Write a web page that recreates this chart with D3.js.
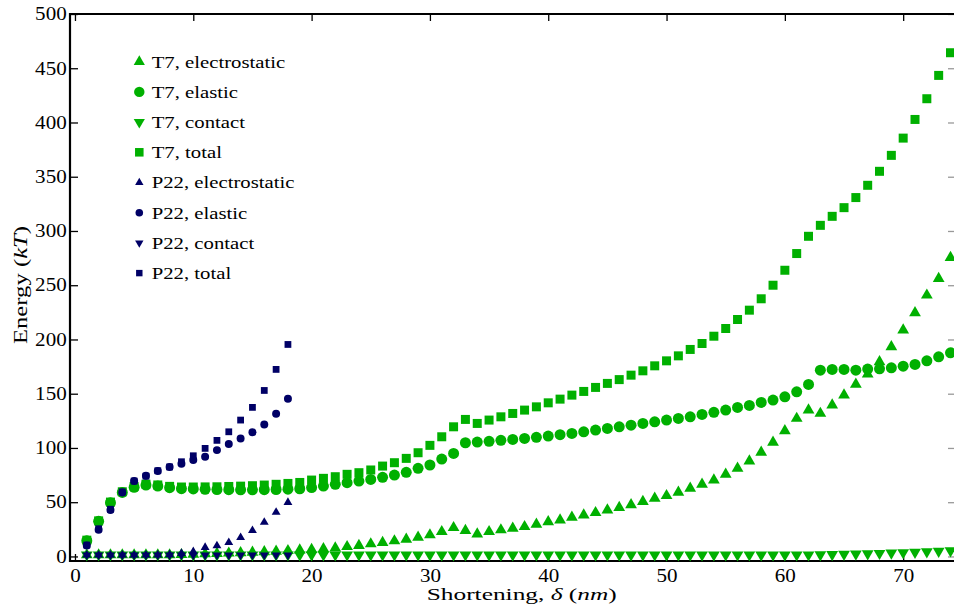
<!DOCTYPE html>
<html>
<head>
<meta charset="utf-8">
<script src="https://cdn.jsdelivr.net/npm/d3@7"></script>
<style>
  body { margin: 0; background: #fff; }
  svg { display: block; }
</style>
</head>
<body>
<svg id="chart" width="954" height="610"></svg>
<script>
// Shortening steps (nm)
const t7Shortening = d3.range(1, 75);
const p22Shortening = d3.range(1, 19);

// T7 energies (kT)
const t7Electrostatic = [1.4,1.4,1.4,1.4,1.4,1.4,1.4,1.4,1.6,2.0,
  2.3,2.6,3.0,3.4,3.8,4.3,4.8,5.3,5.8,6.4,
  7.0,7.8,9.0,10.0,11.5,12.7,14.3,15.8,17.7,19.8,
  22.8,26.5,23.8,20.7,22.8,24.4,26.0,27.4,29.6,32.0,
  33.6,36.1,38.2,40.3,42.8,45.0,47.6,50.5,53.6,56.0,
  59.1,62.8,66.5,70.4,75.7,81.2,87.9,95.9,105.2,115.8,
  127.2,134.9,131.8,139.5,148.7,158.6,168.0,179.4,193.2,208.6,
  224.5,240.8,256.2,275.5];
const t7Elastic = [14.5,32.4,49.6,59.0,63.7,65.8,64.9,63.4,62.5,62.2,
  61.9,61.6,61.5,61.4,61.4,61.5,61.7,62.0,62.4,63.5,
  64.9,66.5,68.0,69.5,71.0,72.9,75.0,77.5,81.2,84.3,
  89.8,95.0,104.8,105.4,106.1,107.0,107.9,108.8,109.8,111.0,
  112.2,113.4,114.9,116.5,118.0,119.5,121.0,122.6,124.1,125.7,
  127.2,128.7,130.9,132.8,134.9,137.4,139.2,142.0,144.1,147.1,
  151.7,158.6,171.7,172.4,172.4,171.7,172.7,172.9,173.9,175.4,
  177.0,180.3,184.0,187.7];
const t7Contact = [1.5,1.5,1.5,1.5,1.5,1.5,1.5,1.5,1.5,1.5,
  1.5,1.5,1.5,1.5,1.5,1.5,1.5,1.5,1.5,1.5,
  1.5,1.5,1.5,1.5,1.5,1.5,1.5,1.5,1.5,1.5,
  1.5,1.5,1.5,1.5,1.5,1.5,1.5,1.5,1.5,1.5,
  1.5,1.5,1.5,1.5,1.5,1.5,1.5,1.5,1.5,1.5,
  1.5,1.5,1.5,1.5,1.5,1.5,1.5,1.5,1.5,1.5,
  1.5,1.5,1.7,1.9,2.1,2.3,2.6,2.9,3.2,3.6,
  4.0,4.4,4.8,5.3];
const t7Total = [15.0,32.8,50.1,59.6,64.4,66.6,65.9,64.6,64.0,64.0,
  64.1,64.2,64.5,64.8,65.2,65.8,66.5,67.3,68.2,70.4,
  72.0,73.5,75.7,77.2,79.7,83.3,86.4,90.4,95.6,102.4,
  110.3,119.5,126.3,122.6,125.7,128.7,131.8,134.9,137.9,141.6,
  145.0,148.7,152.1,155.8,159.5,163.0,167.1,171.1,175.7,180.3,
  184.9,190.8,196.3,203.0,210.1,218.4,227.0,237.5,250.0,263.8,
  279.2,295.1,305.2,313.5,321.5,330.8,342.1,355.0,369.7,385.6,
  402.8,421.9,443.4,464.3];

// P22 energies (kT)
const p22Electrostatic = [1.3,1.3,1.3,1.3,1.3,1.3,1.4,1.6,2.8,4.4,
  8.4,9.8,12.8,17.4,23.9,31.5,40.7,49.8];
const p22Elastic = [10.0,24.7,42.8,59.0,69.5,74.4,78.7,82.4,85.5,88.9,
  91.9,98.0,103.6,108.8,114.4,121.7,131.5,145.3];
const p22Contact = [1.3,1.3,1.3,1.3,1.3,1.3,1.3,1.3,1.3,1.3,
  1.3,1.3,1.3,1.3,1.3,1.3,1.3,1.3];
const p22Total = [10.5,25.5,43.5,59.5,69.5,74.0,79.0,82.5,87.3,92.8,
  99.6,107.0,114.9,125.7,137.4,153.0,172.4,195.4];

// Axis ticks
const xTicks = [0, 10, 20, 30, 40, 50, 60, 70];
const yTicks = [0, 50, 100, 150, 200, 250, 300, 350, 400, 450, 500];

const GREEN = "#00b000";
const NAVY = "#000066";
const FONT = "'Liberation Serif', 'Times New Roman', serif";

const series = [
  { name: "T7, electrostatic", xs: t7Shortening, ys: t7Electrostatic, color: GREEN, shape: "up",     size: 60 },
  { name: "T7, elastic",       xs: t7Shortening, ys: t7Elastic,       color: GREEN, shape: "circle", size: 95 },
  { name: "T7, contact",       xs: t7Shortening, ys: t7Contact,       color: GREEN, shape: "down",   size: 60 },
  { name: "T7, total",         xs: t7Shortening, ys: t7Total,         color: GREEN, shape: "square", size: 81 },
  { name: "P22, electrostatic",xs: p22Shortening, ys: p22Electrostatic, color: NAVY, shape: "up",     size: 34 },
  { name: "P22, elastic",      xs: p22Shortening, ys: p22Elastic,       color: NAVY, shape: "circle", size: 50 },
  { name: "P22, contact",      xs: p22Shortening, ys: p22Contact,       color: NAVY, shape: "down",   size: 34 },
  { name: "P22, total",        xs: p22Shortening, ys: p22Total,         color: NAVY, shape: "square", size: 46 }
];

const symbolType = { up: d3.symbolTriangle, down: d3.symbolTriangle, circle: d3.symbolCircle, square: d3.symbolSquare };

const svg = d3.select("#chart");
const plotLeft = 70, plotRight = 955, plotTop = 14, plotBottom = 561;

const x = d3.scaleLinear().domain([-0.42, 74.38]).range([plotLeft, plotRight]);
const y = d3.scaleLinear().domain([-4.2, 500]).range([plotBottom, plotTop]);

// widen glyphs along the text direction
function stretchText(sel, sx) {
  sel.each(function () {
    const t = d3.select(this);
    const tx = +t.attr("x") || 0, ty = +t.attr("y") || 0;
    t.attr("x", 0).attr("y", 0).attr("transform", `translate(${tx},${ty}) scale(${sx},1)`);
  });
}

// axes with inward ticks
const gLeft = svg.append("g").attr("transform", `translate(${plotLeft},0)`)
  .call(d3.axisLeft(y).tickValues(yTicks).tickSizeInner(-8).tickSizeOuter(0).tickPadding(3.3));
const gBottom = svg.append("g").attr("transform", `translate(0,${plotBottom})`)
  .call(d3.axisBottom(x).tickValues(xTicks).tickSizeInner(-7).tickSizeOuter(0).tickPadding(8.2));
const gTop = svg.append("g").attr("transform", `translate(0,${plotTop})`)
  .call(d3.axisTop(x).tickValues(xTicks).tickSizeInner(-7).tickSizeOuter(0).tickFormat(""));
const gRight = svg.append("g").attr("transform", `translate(${plotRight},0)`)
  .call(d3.axisRight(y).tickValues(yTicks).tickSizeInner(-7).tickSizeOuter(0).tickFormat(""));

[gLeft, gBottom, gTop, gRight].forEach(g => {
  g.select(".domain").remove();
  g.selectAll(".tick line").attr("stroke", "#000").attr("stroke-width", 1.3);
});
gRight.selectAll(".tick line").attr("stroke", "#999");
[gLeft, gBottom].forEach(g => {
  g.selectAll(".tick text").attr("font-family", FONT).attr("font-size", 18).attr("fill", "#000");
  stretchText(g.selectAll(".tick text"), 1.17);
});

// frame
const frame = svg.append("g").attr("stroke", "#000").attr("stroke-width", 2.2).attr("fill", "none");
frame.append("line").attr("x1", plotLeft).attr("x2", plotLeft).attr("y1", plotTop - 1).attr("y2", plotBottom + 1);
frame.append("line").attr("x1", plotLeft - 1).attr("x2", 954).attr("y1", plotTop).attr("y2", plotTop);
frame.append("line").attr("x1", plotLeft - 1).attr("x2", 954).attr("y1", plotBottom).attr("y2", plotBottom);

// markers
const plot = svg.append("g");
series.forEach(s => {
  const sym = d3.symbol().type(symbolType[s.shape]).size(s.size);
  plot.append("g").selectAll("path")
    .data(s.xs.map((v, i) => [v, s.ys[i]]))
    .join("path")
    .attr("d", sym)
    .attr("fill", s.color)
    .attr("transform", d => `translate(${x(d[0])},${y(d[1])})` + (s.shape === "down" ? " rotate(180)" : ""));
});

// legend
const legend = svg.append("g");
series.forEach((s, i) => {
  const cy = 61.7 + i * 30.2;
  const sym = d3.symbol().type(symbolType[s.shape]).size(s.size * 0.9);
  legend.append("path")
    .attr("d", sym)
    .attr("fill", s.color)
    .attr("transform", `translate(139.3,${cy})` + (s.shape === "down" ? " rotate(180)" : ""));
  const t = legend.append("text")
    .attr("x", 151.7).attr("y", cy).attr("dy", "0.35em")
    .attr("font-family", FONT).attr("font-size", 17).attr("fill", "#000")
    .text(s.name);
  stretchText(t, 1.22);
});

// axis titles
const xt = svg.append("text")
  .attr("text-anchor", "middle")
  .attr("font-family", FONT).attr("font-size", 17.5).attr("fill", "#000")
  .attr("transform", "translate(521.7,600) scale(1.45,1)");
xt.append("tspan").text("Shortening, ");
xt.append("tspan").attr("font-style", "italic").text("δ");
xt.append("tspan").text(" (");
xt.append("tspan").attr("font-style", "italic").text("nm");
xt.append("tspan").text(")");

const yt = svg.append("text")
  .attr("text-anchor", "middle")
  .attr("font-family", FONT).attr("font-size", 19).attr("fill", "#000")
  .attr("transform", "translate(26.5,285) rotate(-90) scale(1.3,1)");
yt.append("tspan").text("Energy (");
yt.append("tspan").attr("font-style", "italic").text("kT");
yt.append("tspan").text(")");
</script>
</body>
</html>
